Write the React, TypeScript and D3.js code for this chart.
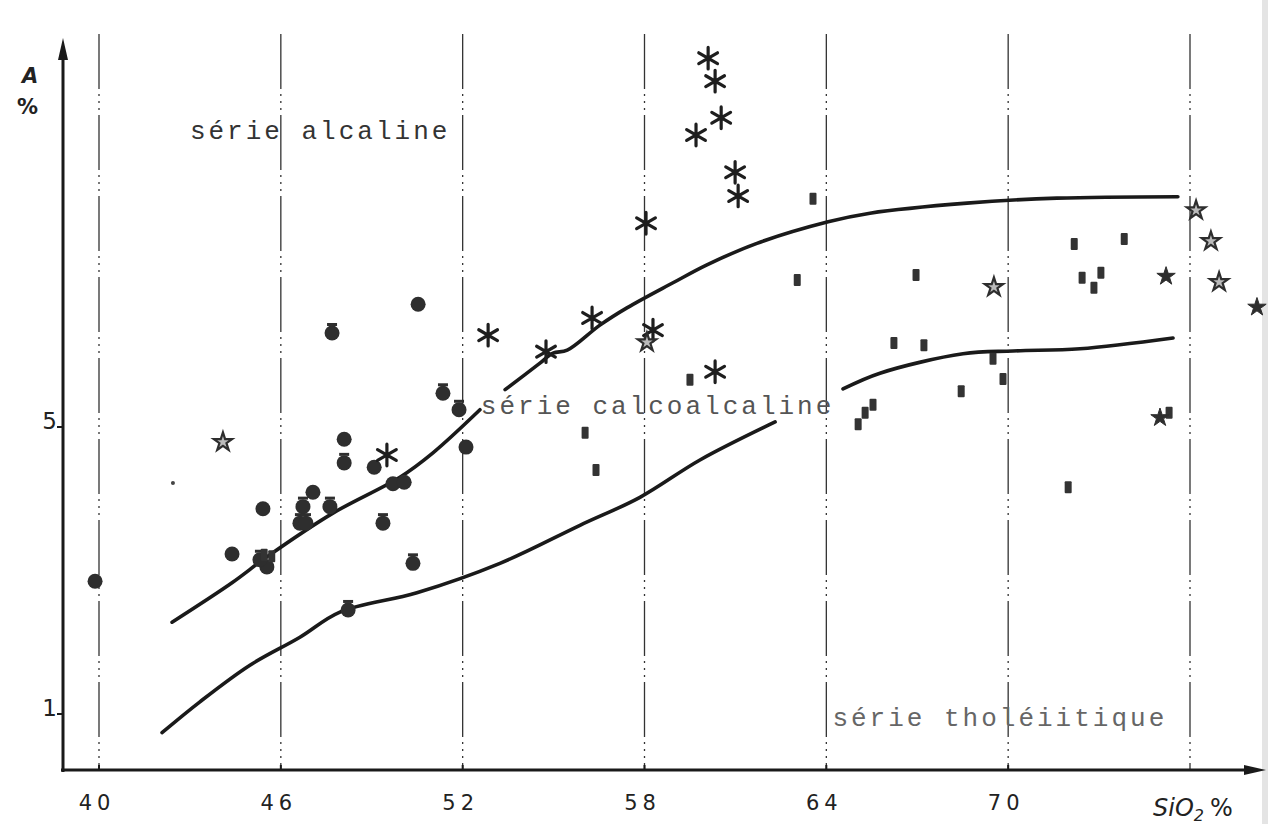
import React from 'react';
import * as d3 from 'd3';

// ---- data ----
const xTickValues = [40, 46, 52, 58, 64, 70];
const gridValues = [40, 46, 52, 58, 64, 70, 76];
const yTickValues = [5, 1];

const circles: [number, number][] = [
  [39.87, 2.85], [50.53, 6.71], [52.11, 4.72], [48.09, 4.83], [49.08, 4.44],
  [49.70, 4.21], [50.07, 4.23], [47.06, 4.09], [45.41, 3.86], [44.39, 3.23], [45.54, 3.05],
];
const barCircles: [number, number][] = [
  [47.69, 6.31], [51.35, 5.47], [51.88, 5.24], [48.09, 4.50], [46.73, 3.89],
  [47.62, 3.89], [46.63, 3.66], [46.83, 3.66], [49.37, 3.66], [45.31, 3.15],
  [50.36, 3.10], [48.22, 2.45],
];
const asterisks: [number, number][] = [
  [60.10, 10.14], [60.33, 9.82], [60.53, 9.31], [59.70, 9.07], [60.99, 8.55],
  [61.09, 8.22], [58.05, 7.84], [52.84, 6.28], [54.75, 6.05], [56.27, 6.52],
  [58.28, 6.35], [60.33, 5.77], [49.50, 4.61],
];
const squares: [number, number][] = [
  [63.56, 8.18], [63.04, 7.05], [66.96, 7.12], [72.18, 7.55], [73.83, 7.62],
  [72.44, 7.08], [73.06, 7.15], [72.83, 6.94], [66.23, 6.17], [67.22, 6.14],
  [69.50, 5.95], [69.83, 5.67], [68.45, 5.50], [65.54, 5.31], [65.28, 5.20],
  [65.05, 5.04], [75.31, 5.20], [71.98, 4.16], [59.50, 5.66], [56.04, 4.92],
  [56.40, 4.40], [45.45, 3.22], [45.70, 3.20],
];
const openStars: [number, number][] = [
  [44.09, 4.79], [58.08, 6.18], [69.53, 6.95], [76.20, 8.02], [76.69, 7.59], [76.96, 7.02],
];
const filledStars: [number, number][] = [
  [75.21, 7.10], [78.21, 6.67], [75.01, 5.13],
];
const tinyDots: [number, number][] = [[42.44, 4.22]];

const upperCurveA: [number, number][] = [
  [42.41, 2.28], [44.39, 2.83], [45.54, 3.19], [47.72, 3.80], [49.93, 4.30], [51.02, 4.64], [52.57, 5.24],
];
const upperCurveB: [number, number][] = [
  [53.40, 5.52], [54.55, 5.89], [54.98, 6.03], [55.45, 6.07], [56.53, 6.42], [57.42, 6.66],
  [58.94, 7.01], [60.06, 7.26], [61.71, 7.56], [64.06, 7.86], [65.44, 7.98], [68.64, 8.12],
  [71.61, 8.19], [75.60, 8.21],
];
const lowerCurveA: [number, number][] = [
  [42.08, 0.74], [43.33, 1.17], [44.98, 1.68], [46.63, 2.07], [47.95, 2.42], [50.49, 2.69],
  [53.23, 3.10], [55.87, 3.63], [57.85, 4.02], [59.83, 4.54], [62.31, 5.07],
];
const lowerCurveB: [number, number][] = [
  [64.55, 5.53], [65.77, 5.75], [68.51, 6.02], [70.16, 6.06], [72.37, 6.09], [75.44, 6.24],
];

const seriesLabels = [
  { text: 'série alcaline', x: 43.0, y: 9.02, color: '#333' },
  { text: 'série calcoalcaline', x: 52.6, y: 5.18, color: '#555' },
  { text: 'série tholéiitique', x: 64.2, y: 0.83, color: '#666' },
];

// ---- layout ----
const W = 1268;
const H = 824;
const axisX = 63;
const axisY = 770;

const x = d3.scaleLinear().domain([40, 76]).range([99, 1190]);
const y = d3.scaleLinear().domain([1, 5]).range([714, 427]);

const line = d3
  .line<[number, number]>()
  .x((d) => x(d[0]))
  .y((d) => y(d[1]))
  .curve(d3.curveCatmullRom.alpha(0.5));

const starPath = d3.symbol().type(d3.symbolStar).size(105)() as string;
const astPath = d3.symbol().type(d3.symbolAsterisk).size(330)() as string;

export default function App() {
  return (
    <svg
      width={W}
      height={H}
      style={{ position: 'absolute', left: 0, top: 0, background: '#fff' }}
    >
      <rect x={0} y={0} width={W} height={H} fill="#fff" />
      <rect x={1262} y={0} width={6} height={H} fill="#e4e4e4" />

      {/* grid lines */}
      {gridValues.map((g) => (
        <line
          key={g}
          x1={x(g)}
          x2={x(g)}
          y1={34}
          y2={axisY}
          stroke="#333"
          strokeWidth={1.3}
          strokeDasharray="55 5 2 5 2 5 2 5"
        />
      ))}

      {/* curves */}
      {[upperCurveA, upperCurveB, lowerCurveA, lowerCurveB].map((c, i) => (
        <path
          key={i}
          d={line(c) as string}
          fill="none"
          stroke="#1a1a1a"
          strokeWidth={3.6}
          strokeLinecap="round"
        />
      ))}

      {/* axes */}
      <line x1={axisX} x2={axisX} y1={axisY + 2} y2={50} stroke="#1a1a1a" strokeWidth={3} />
      <path d={`M${axisX - 5},60 L${axisX},38 L${axisX + 5},60 Z`} fill="#1a1a1a" />
      <line x1={axisX - 2} x2={1250} y1={axisY} y2={axisY} stroke="#1a1a1a" strokeWidth={3} />
      <path d={`M1244,${axisY - 5} L1266,${axisY} L1244,${axisY + 5} Z`} fill="#1a1a1a" />

      {/* y ticks */}
      {yTickValues.map((t) => (
        <g key={t}>
          <line x1={axisX - 6} x2={axisX} y1={y(t)} y2={y(t)} stroke="#1a1a1a" strokeWidth={2} />
          <text
            x={axisX - 6}
            y={y(t) + 2}
            textAnchor="end"
            fontFamily="DejaVu Sans"
            fontSize={23}
            fill="#222"
          >
            {t}
          </text>
        </g>
      ))}

      {/* x ticks */}
      {xTickValues.map((t) => (
        <g key={t}>
          <line x1={x(t)} x2={x(t)} y1={axisY - 5} y2={axisY} stroke="#1a1a1a" strokeWidth={2} />
          <text
            x={x(t) - 2}
            y={axisY + 40}
            textAnchor="middle"
            fontFamily="DejaVu Sans"
            fontSize={21}
            letterSpacing={5}
            fill="#222"
          >
            {t}
          </text>
        </g>
      ))}

      {/* axis titles */}
      <text x={22} y={83} fontFamily="DejaVu Sans" fontStyle="italic" fontWeight="bold" fontSize={21} fill="#222">
        A
      </text>
      <text x={17} y={114} fontFamily="DejaVu Sans" fontWeight="bold" fontSize={21} fill="#222">
        %
      </text>
      <text x={1153} y={axisY + 46} fontFamily="DejaVu Sans" fontStyle="italic" fontSize={24} fill="#222">
        SiO
        <tspan fontSize={16} dy={5}>2</tspan>
        <tspan fontStyle="normal" dy={-5} dx={6}>%</tspan>
      </text>

      {/* series labels */}
      {seriesLabels.map((l) => (
        <text
          key={l.text}
          x={x(l.x)}
          y={y(l.y)}
          fontFamily="Courier New, Liberation Mono, monospace"
          fontSize={26}
          letterSpacing={3}
          fill={l.color}
        >
          {l.text}
        </text>
      ))}

      {/* points */}
      {circles.map((d, i) => (
        <circle key={'c' + i} cx={x(d[0])} cy={y(d[1])} r={7.5} fill="#2e2e2e" />
      ))}
      {barCircles.map((d, i) => (
        <g key={'b' + i} transform={`translate(${x(d[0])},${y(d[1])})`}>
          <circle r={7.5} fill="#2e2e2e" />
          <rect x={-5} y={-10} width={10} height={3} fill="#2e2e2e" />
        </g>
      ))}
      {squares.map((d, i) => (
        <rect
          key={'s' + i}
          x={x(d[0]) - 3.5}
          y={y(d[1]) - 6}
          width={7}
          height={12}
          rx={1}
          fill="#333"
        />
      ))}
      {asterisks.map((d, i) => (
        <path
          key={'a' + i}
          d={astPath}
          transform={`translate(${x(d[0])},${y(d[1])})`}
          fill="none"
          stroke="#1e1e1e"
          strokeWidth={3.2}
          strokeLinecap="round"
        />
      ))}
      {openStars.map((d, i) => (
        <path
          key={'os' + i}
          d={starPath}
          transform={`translate(${x(d[0])},${y(d[1])})`}
          fill="#bbb"
          stroke="#2e2e2e"
          strokeWidth={2.2}
        />
      ))}
      {filledStars.map((d, i) => (
        <path
          key={'fs' + i}
          d={starPath}
          transform={`translate(${x(d[0])},${y(d[1])})`}
          fill="#2e2e2e"
          stroke="#2e2e2e"
          strokeWidth={1}
        />
      ))}
      {tinyDots.map((d, i) => (
        <circle key={'t' + i} cx={x(d[0])} cy={y(d[1])} r={2} fill="#444" />
      ))}
    </svg>
  );
}
